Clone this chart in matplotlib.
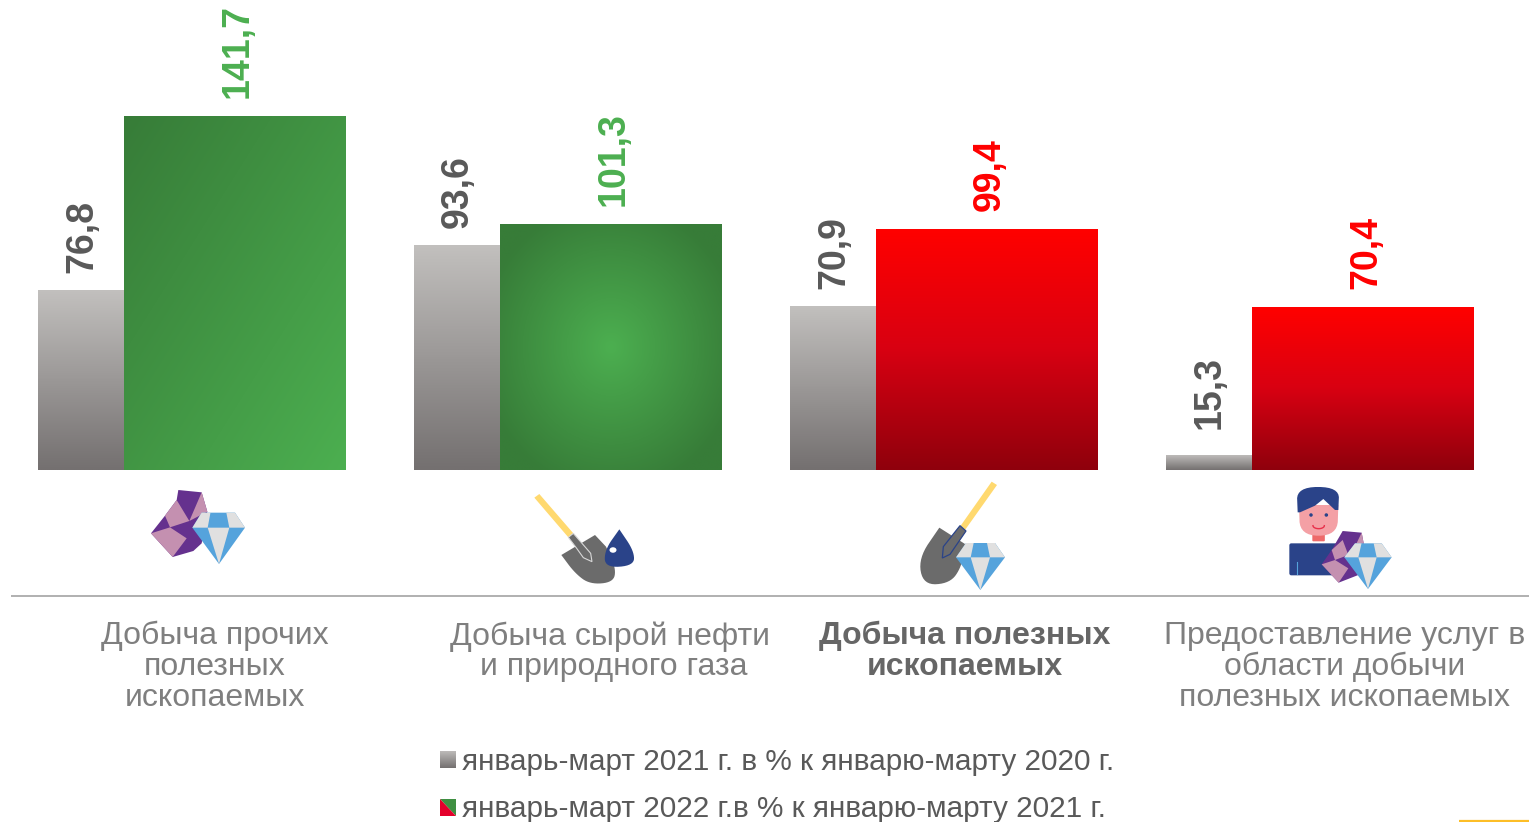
import numpy as np
import matplotlib
matplotlib.use("Agg")
import matplotlib.pyplot as plt
from matplotlib.patches import Polygon, Ellipse, FancyBboxPatch
from matplotlib.colors import LinearSegmentedColormap

plt.rcParams['font.family'] = ['Liberation Sans', 'DejaVu Sans']

categories = ["Добыча прочих\nполезных\nископаемых",
              "Добыча сырой нефти \nи природного газа",
              "Добыча полезных\nископаемых",
              "Предоставление услуг в\nобласти добычи\nполезных ископаемых"]
values_2021 = [76.8, 93.6, 70.9, 15.3]
values_2022 = [141.7, 101.3, 99.4, 70.4]
labels_2021 = ["76,8", "93,6", "70,9", "15,3"]
labels_2022 = ["141,7", "101,3", "99,4", "70,4"]
legend_labels = ["январь-март 2021 г. в % к январю-марту 2020 г.",
                 "январь-март 2022 г.в % к январю-марту 2021 г."]

W, H = 1529, 822
GREEN, RED, GREY_TXT = "#4caf50", "#ff0000", "#595959"
PURPLE, PINK, BLUE, LGREY = "#65318e", "#c490b0", "#55a3dc", "#e0e0e0"
NAVY, YELLOW, SHOVEL = "#2a4389", "#ffd96f", "#6b6b6b"

grey_cm = LinearSegmentedColormap.from_list("g", ["#c2c0be", "#747070"])
red_cm = LinearSegmentedColormap.from_list("r", ["#ff0000", "#d80012", "#8f000c"])
green_cm = LinearSegmentedColormap.from_list("gr", ["#377c38", "#4caf50"])

fig = plt.figure(figsize=(W / 100, H / 100), dpi=100)

# bars: y axis does not start at zero in the original
base = 9.6
px_per_unit = 2.68
bar_bottom = 470
ax = fig.add_axes([0, 1 - bar_bottom / H, 1, bar_bottom / H])
group = 376.0
ax.axis("off")
w1, w2 = 86 / group, 222 / group

# overlay in pixels for icons, texts, lines
ov = fig.add_axes([0, 0, 1, 1], zorder=5)
ov.axis("off")
ov.patch.set_alpha(0)


def vertical(n=128):
    return np.linspace(0, 1, n).reshape(-1, 1)


def diagonal(n=128):
    yy, xx = np.mgrid[0:1:n * 1j, 0:1:n * 1j]
    return (xx + yy) / 2


def radial(n=128):
    yy, xx = np.mgrid[-1:1:n * 1j, -1:1:n * 1j]
    return np.clip(1 - np.sqrt(xx ** 2 + yy ** 2) / 1.2, 0, 1)


def gradient_bar(x, val, width, cmap, grad):
    b = ax.bar(x, val - base, width, bottom=base, align="edge", color="none", linewidth=0)[0]
    im = ax.imshow(grad, cmap=cmap, vmin=0, vmax=1, aspect="auto", origin="upper",
                   extent=[x, x + width, base, val], interpolation="bilinear")
    im.set_clip_path(b)


green_grads = [diagonal(), radial()]
for i in range(4):
    gradient_bar(i, values_2021[i], w1, grey_cm, vertical())
    if values_2022[i] >= 100:
        gradient_bar(i + w1, values_2022[i], w2, green_cm, green_grads[i])
    else:
        gradient_bar(i + w1, values_2022[i], w2, red_cm, vertical())
    # the small bar has its label lifted a bit higher
    lift = 26 if i == 3 else 17
    ax.annotate(labels_2021[i], (i + w1 / 2, values_2021[i]), xytext=(1, lift), textcoords="offset pixels",
                rotation=90, ha="center", va="bottom", fontsize=27, fontweight="bold", color=GREY_TXT)
    col = GREEN if values_2022[i] >= 100 else RED
    ax.annotate(labels_2022[i], (i + w1 + w2 / 2, values_2022[i]), xytext=(3, 18), textcoords="offset pixels",
                rotation=90, ha="center", va="bottom", fontsize=27, fontweight="bold", color=col)
ax.set_xlim(-38 / group, (W - 38) / group)
ax.set_ylim(base, base + bar_bottom / px_per_unit)


# icons
def poly(pts, color, ox, oy, **kw):
    p = np.array(pts, dtype=float) / 3 + [ox, oy]
    ov.add_patch(Polygon(p, closed=True, facecolor=color, edgecolor=kw.pop("edge", "none"),
                         linewidth=kw.pop("lw", 0), **kw))


def smooth(pts, n=3):
    # corner cutting, end points stay where they are
    p = np.array(pts, dtype=float)
    for _ in range(n):
        q = [p[0]]
        for a, b in zip(p[:-1], p[1:]):
            q += [0.75 * a + 0.25 * b, 0.25 * a + 0.75 * b]
        q.append(p[-1])
        p = np.array(q)
    return [tuple(v) for v in p]


def diamond(x0, x1, x2, x3, x4, x5, xt, yt, ym, yb, ox, oy):
    # x0..x5 are the facet breakpoints left to right
    poly([(x0, ym), (x1, yt), (x4, yt), (x5, ym), (xt, yb)], BLUE, ox, oy)
    poly([(x1, yt), (x2 + (x1 - x0) * 0.3, yt), (x2, ym), (x0, ym)], LGREY, ox, oy)
    poly([(x3 - (x5 - x4) * 0.3, yt), (x4, yt), (x5, ym), (x3, ym)], LGREY, ox, oy)
    poly([(x2, ym), (x3, ym), (xt, yb)], LGREY, ox, oy)


# rock and diamond
ox, oy = 130, 475
poly([(145, 45), (215, 52), (232, 110), (215, 205), (190, 228), (128, 246), (63, 175), (105, 122), (140, 75)],
     PURPLE, ox, oy)
poly([(140, 75), (178, 138), (120, 157), (105, 122)], PINK, ox, oy)
poly([(215, 52), (232, 110), (178, 138)], PINK, ox, oy)
poly([(63, 175), (120, 157), (170, 190), (128, 246)], PINK, ox, oy)
diamond(187, 215, 233, 298, 315, 345, 267, 113, 158, 267, ox, oy)

# shovel and oil drop
poly([(1213, 68), (1228, 57), (1330, 175), (1315, 187)], YELLOW, ox, oy)
poly([(1294, 240), (1395, 180), (1428, 215)]
     + smooth([(1428, 215), (1458, 280), (1450, 322), (1380, 328), (1335, 295), (1294, 240)]),
     SHOVEL, ox, oy)
poly([(1315, 187), (1330, 175), (1382, 235), (1386, 260), (1360, 248), (1340, 220)], SHOVEL, ox, oy,
     edge="#d8d8d8", lw=0.8)
poly(smooth([(1468, 163), (1512, 228), (1512, 272), (1425, 278), (1424, 225), (1468, 163)]), NAVY, ox, oy)
ov.add_patch(Ellipse((130 + 1449 / 3, 475 + 225 / 3), 7, 5.5, color="white", lw=0))

# second shovel and diamond
ox, oy = 900, 475
poly([(275, 20), (291, 30), (195, 165), (182, 152)], YELLOW, ox, oy)
poly([(118, 158), (195, 207)]
     + smooth([(195, 207), (185, 275), (150, 325), (70, 330), (55, 250), (118, 158)]),
     SHOVEL, ox, oy)
poly([(180, 152), (198, 168), (150, 238), (127, 249), (130, 215)], SHOVEL, ox, oy, edge=NAVY, lw=0.9)
diamond(168, 198, 212, 270, 285, 315, 241, 204, 247, 345, ox, oy)

# person with rock and diamond
ov.add_patch(FancyBboxPatch((900 + 1168 / 3, 475 + 205 / 3), 54, 32, boxstyle="round,pad=0,rounding_size=2",
                            facecolor=NAVY, edgecolor="none"))
ov.add_patch(FancyBboxPatch((900 + 1237 / 3, 475 + 175 / 3), 12.5, 8, boxstyle="round,pad=0,rounding_size=1",
                            facecolor="#ee6a6a", edgecolor="none"))
poly(smooth([(1197, 90), (1200, 182), (1312, 182), (1315, 90)], 3), "#f4a0a5", ox, oy)
poly(smooth([(1193, 112), (1190, 36), (1318, 36), (1315, 105)], 3)
     + [(1305, 105), (1270, 72), (1245, 92), (1200, 112)], NAVY, ox, oy)
for ex in (1233, 1279):
    ov.add_patch(Ellipse((900 + ex / 3, 475 + 120 / 3), 3.5, 3.5, color=NAVY, lw=0))
t = np.linspace(0, np.pi, 20)
ov.plot(900 + (1256 + 17 * np.cos(t)) / 3, 475 + (152 + 9 * np.sin(t)) / 3, color="#e8304a", lw=1)
ov.plot([900 + 1191 / 3] * 2, [475 + 260 / 3, 475 + 298 / 3], color=BLUE, lw=0.8)
poly([(1328, 168), (1385, 173), (1392, 210), (1375, 300), (1316, 323), (1265, 268), (1295, 225)], PURPLE, ox, oy)
poly([(1328, 195), (1345, 240), (1305, 255), (1295, 225)], PINK, ox, oy)
poly([(1385, 173), (1392, 210), (1360, 225)], PINK, ox, oy)
poly([(1265, 268), (1305, 255), (1345, 280), (1316, 323)], PINK, ox, oy)
diamond(1333, 1365, 1375, 1430, 1445, 1475, 1404, 205, 247, 342, ox, oy)

# separator and the yellow stub in the corner
ov.plot([11, W], [596, 596], color="#a3a3a3", lw=1.2, solid_capstyle="butt")
ov.plot([1459, W], [821, 821], color="#fdbe27", lw=1.6, solid_capstyle="butt")

# category labels
cat_x = [214.5, 614, 965, 1344.5]
for i, c in enumerate(categories):
    bold = i == 2
    ov.text(cat_x[i], 621, c, ha="center", va="top", fontsize=23, linespacing=1.04,
            color="#666666" if bold else "#7f7f7f", fontweight="bold" if bold else "normal")

# legend
ov.imshow(vertical(), cmap=LinearSegmentedColormap.from_list("lg", ["#bdbbb9", "#747070"]), aspect="auto",
          extent=[440, 456, 768, 752], origin="upper", zorder=3)
poly([(1320, 2397), (1368, 2397), (1368, 2448)], "#3f8f42", 0, 0, zorder=3)
poly([(1320, 2397), (1368, 2448), (1320, 2448)], "#e4002b", 0, 0, zorder=3)
ov.set_xlim(0, W)
ov.set_ylim(H, 0)
ov.text(462, 762, legend_labels[0], va="center", fontsize=21.45, color=GREY_TXT)
ov.text(462, 809, legend_labels[1], va="center", fontsize=21.45, color=GREY_TXT)

fig.savefig("out.png", dpi=100)
